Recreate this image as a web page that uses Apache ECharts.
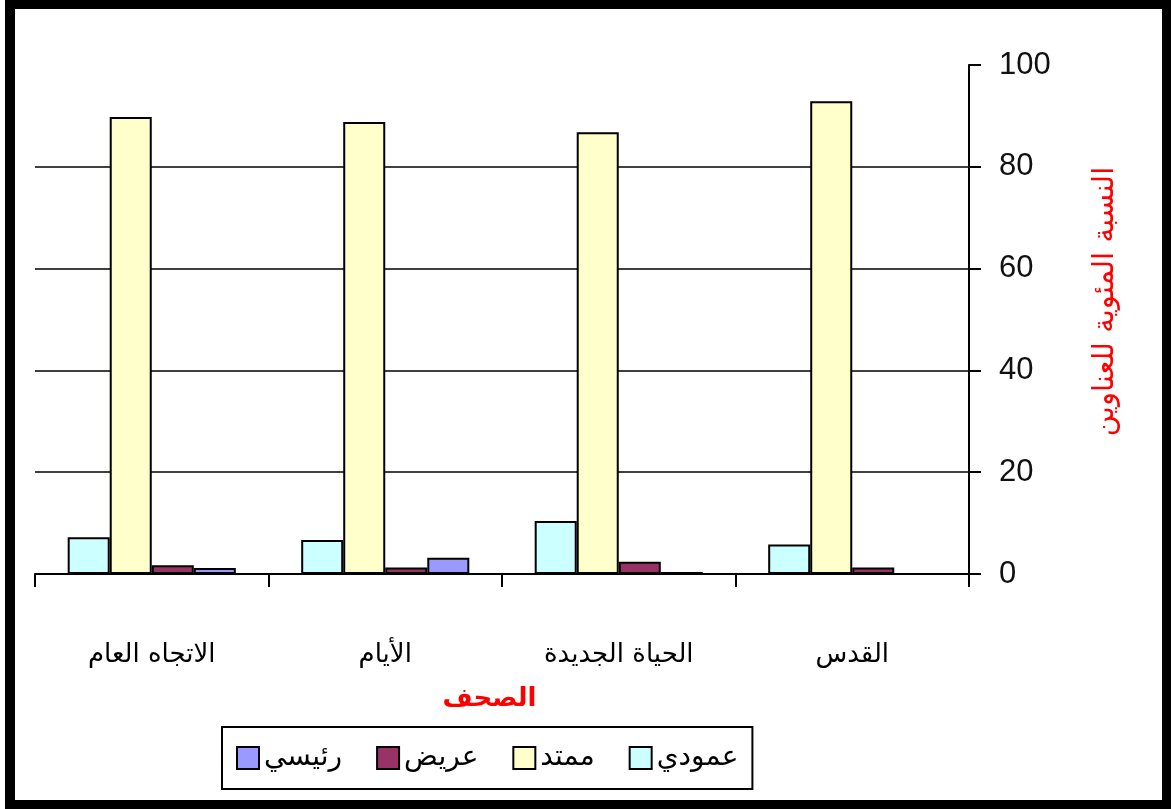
<!DOCTYPE html>
<html>
<head>
<meta charset="utf-8">
<script src="https://cdn.jsdelivr.net/npm/echarts@6/dist/echarts.min.js"></script>
<style>
html,body{margin:0;padding:0;background:#fff;}
#chart{width:1171px;height:809px;}
</style>
</head>
<body>
<div id="chart"></div>
<script>
var categories = ['القدس', 'الحياة الجديدة', 'الأيام', 'الاتجاه العام'];
var seriesNames = ['عمودي', 'ممتد', 'عريض', 'رئيسي'];
var vertical = [5.8, 10.4, 6.7, 7.2];
var extended = [92.9, 86.8, 88.8, 89.8];
var wide = [1.3, 2.4, 1.3, 1.7];
var main = [0, 0.4, 3.2, 1.2];
var yTicks = [0, 20, 40, 60, 80, 100];
var xAxisTitle = 'الصحف';
var yAxisTitle = 'النسبة المئوية للعناوين';

var colors = ['#CCFFFF', '#FFFFCC', '#993366', '#9999FF'];
var values = [vertical, extended, wide, main];
var arFont = 'DejaVu Sans';

var chart = echarts.init(document.getElementById('chart'), null, {renderer: 'canvas'});
var option = {
  animation: false,
  backgroundColor: '#fff',
  grid: {left: 35, right: 202, top: 65, bottom: 235, containLabel: false},
  legend: {
    data: seriesNames.slice().reverse(),
    left: 222, top: 727,
    orient: 'horizontal',
    align: 'left',
    icon: 'rect',
    itemWidth: 22, itemHeight: 22,
    itemGap: 34,
    padding: [17, 14, 17, 14],
    borderColor: '#000', borderWidth: 2,
    textStyle: {fontFamily: arFont, fontSize: 28, color: '#000'}
  },
  xAxis: {
    type: 'category',
    data: categories,
    inverse: true,
    name: xAxisTitle,
    nameLocation: 'middle',
    nameGap: 112,
    nameTextStyle: {fontFamily: arFont, fontSize: 26, fontWeight: 'bold', color: '#FF0000', padding: [0, 25, 0, 0]},
    axisLine: {show: true, lineStyle: {color: '#000', width: 2}},
    axisTick: {show: true, alignWithLabel: false, length: 13, lineStyle: {color: '#000', width: 2}},
    axisLabel: {margin: 68, fontFamily: arFont, fontSize: 26, color: '#000'},
    splitLine: {show: false}
  },
  yAxis: {
    type: 'value',
    position: 'right',
    min: yTicks[0], max: yTicks[yTicks.length - 1], interval: 20,
    name: yAxisTitle,
    nameLocation: 'middle',
    nameRotate: 90,
    nameGap: 122,
    nameTextStyle: {fontFamily: arFont, fontSize: 29, color: '#FF0000', padding: [0, 0, 0, 36]},
    axisLine: {show: true, lineStyle: {color: '#000', width: 2}},
    axisTick: {show: true, inside: false, length: 12, lineStyle: {color: '#000', width: 2}},
    axisLabel: {margin: 30, fontFamily: 'Liberation Sans', fontSize: 31, color: '#111'},
    splitLine: {show: true, showMinLine: false, showMaxLine: false, lineStyle: {color: '#000', width: 1.5}}
  },
  graphic: [{
    type: 'rect', silent: true, z: 100,
    shape: {x: 10, y: 4, width: 1157, height: 801},
    style: {fill: 'none', stroke: '#000', lineWidth: 10}
  }],
  series: seriesNames.map(function (n, i) {
    return {
      name: n,
      type: 'bar',
      data: values[i],
      barGap: '0%',
      barCategoryGap: '28%',
      itemStyle: {color: colors[i], borderColor: '#000', borderWidth: 2}
    };
  })
};
chart.setOption(option);
</script>
</body>
</html>
